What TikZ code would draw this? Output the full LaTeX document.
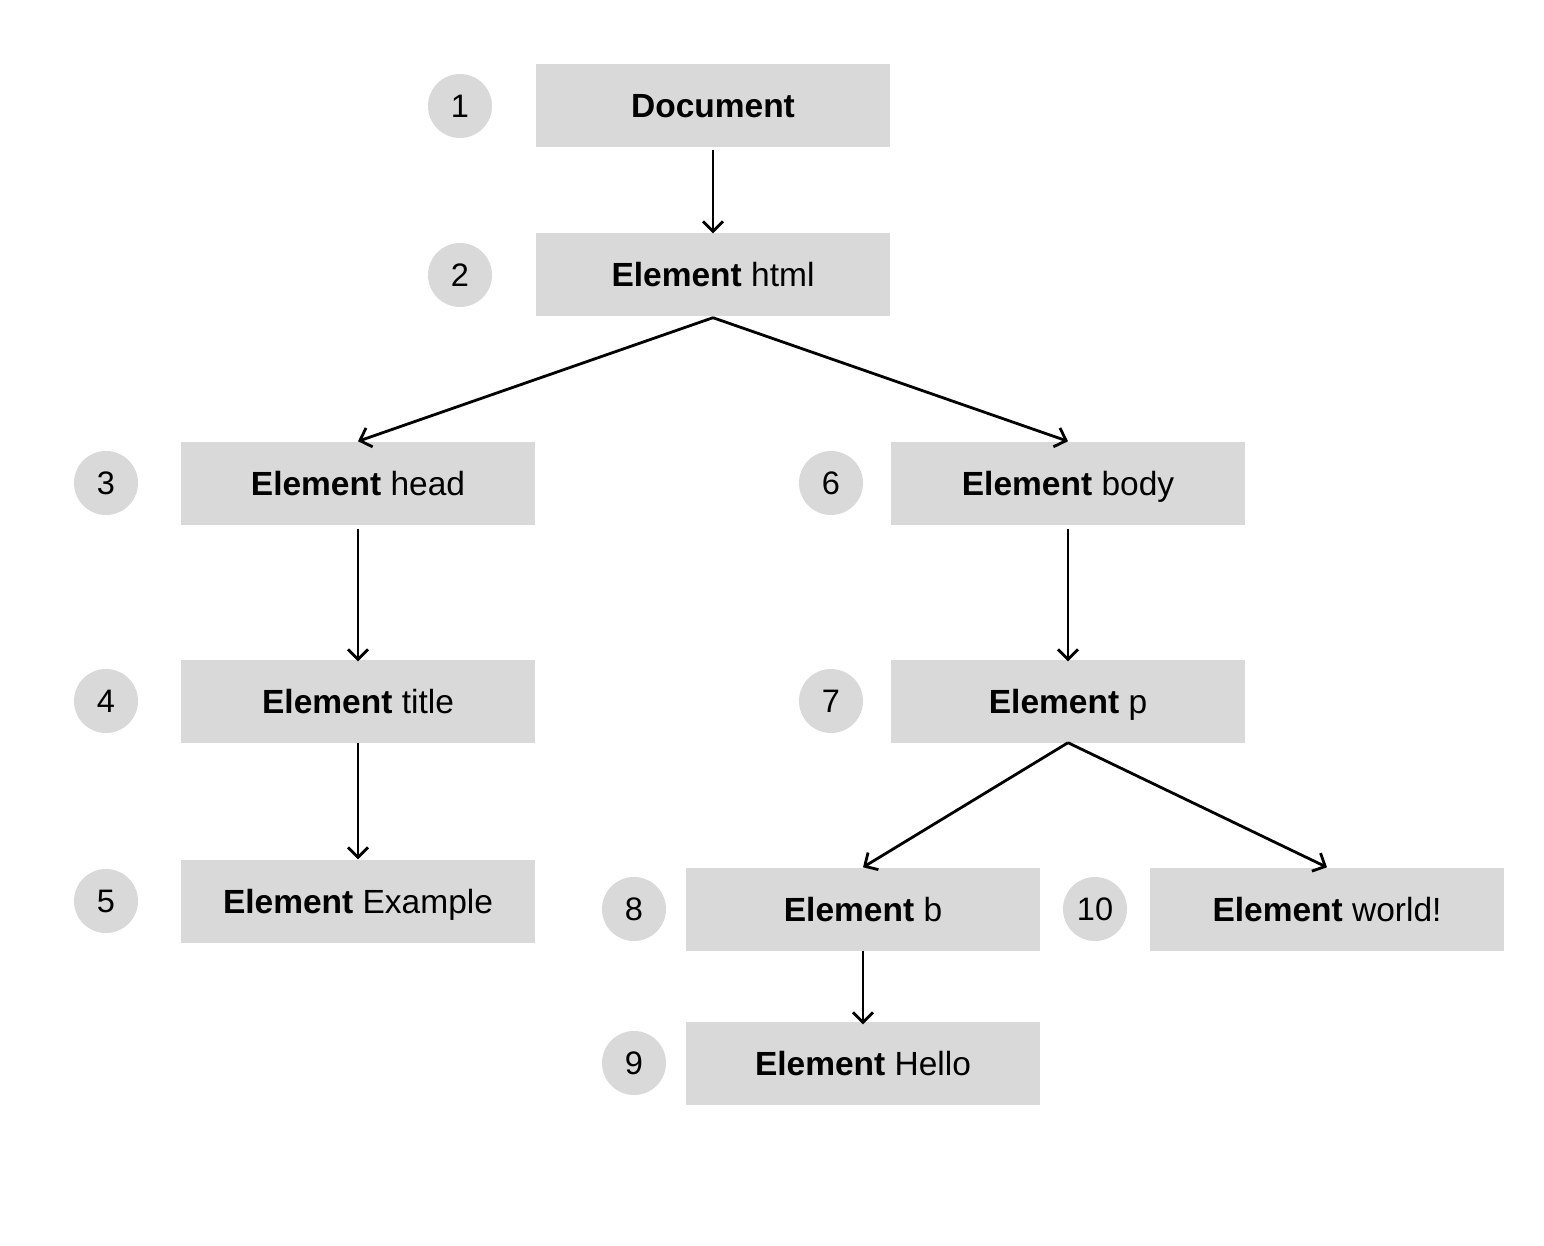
\documentclass[tikz,border=0pt]{standalone}
\usepackage{fontspec}
\setmainfont{Liberation Sans}
\usetikzlibrary{arrows.meta}
\definecolor{boxgray}{HTML}{D9D9D9}
\tikzset{
  elbox/.style={fill=boxgray, draw=none, minimum width=354pt, minimum height=83pt, inner sep=0pt, text height=26pt, text depth=2pt, font=\fontsize{33.5}{40}\selectfont},
  numcirc/.style={circle, fill=boxgray, draw=none, minimum size=64pt, inner sep=0pt, text height=24pt, text depth=1pt, font=\fontsize{32.5}{38}\selectfont},
  conn/.style={line width=2.8pt, -{Straight Barb[length=10pt,width=20pt,line width=2.8pt]}}
}
\begin{document}
\begin{tikzpicture}[x=1pt,y=-1pt]
\useasboundingbox[fill=white] (0,0) rectangle (1544,1246);
% boxes
\node[elbox] (b1) at (713,106) {\textbf{Document}};
\node[elbox] (b2) at (713,275) {\textbf{Element} html};
\node[elbox] (b3) at (358,483) {\textbf{Element} head};
\node[elbox] (b4) at (358,701) {\textbf{Element} title};
\node[elbox] (b5) at (358,901) {\textbf{Element} Example};
\node[elbox] (b6) at (1068,483) {\textbf{Element} body};
\node[elbox] (b7) at (1068,701) {\textbf{Element} p};
\node[elbox] (b8) at (863,909) {\textbf{Element} b};
\node[elbox] (b9) at (863,1063) {\textbf{Element} Hello};
\node[elbox] (b10) at (1327,909) {\textbf{Element} world!};
% numbers
\node[numcirc] (n1) at (460,106) {1};
\node[numcirc] (n2) at (460,275) {2};
\node[numcirc] (n3) at (106,483) {3};
\node[numcirc] (n4) at (106,701) {4};
\node[numcirc] (n5) at (106,901) {5};
\node[numcirc] (n6) at (831,483) {6};
\node[numcirc] (n7) at (831,701) {7};
\node[numcirc] (n8) at (634,909) {8};
\node[numcirc] (n9) at (634,1063) {9};
\node[numcirc] (n10) at (1095,909) {10};
% connectors
\draw[conn] ([yshift=-2pt]b1.south) -- (b2.north);
\draw[conn] ([yshift=-1pt]b2.south) -- (b3.north);
\draw[conn] ([yshift=-1pt]b2.south) -- (b6.north);
\draw[conn] ([yshift=-4pt]b3.south) -- ([yshift=-2pt]b4.north);
\draw[conn] (b4.south) -- (b5.north);
\draw[conn] ([yshift=-4pt]b6.south) -- ([yshift=-2pt]b7.north);
\draw[conn] (b7.south) -- (b8.north);
\draw[conn] (b7.south) -- (b10.north);
\draw[conn] (b8.south) -- ([yshift=-3pt]b9.north);
\end{tikzpicture}
\end{document}
